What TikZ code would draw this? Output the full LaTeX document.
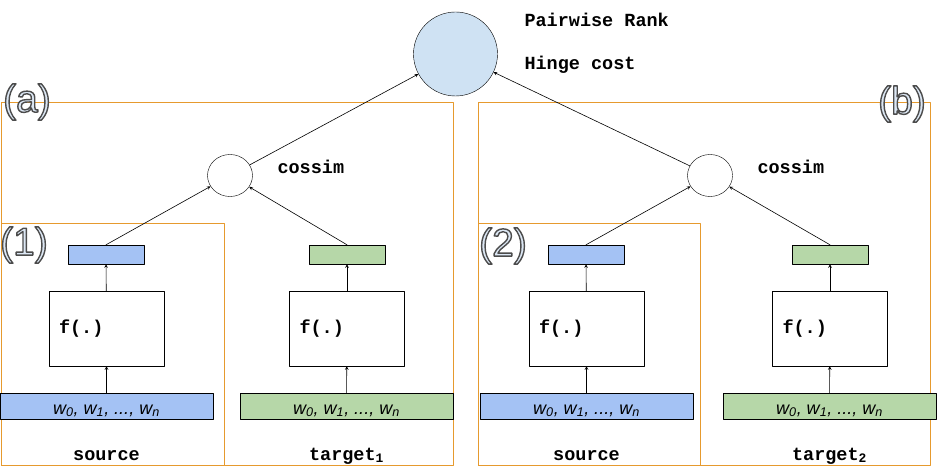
\documentclass[tikz,border=0pt]{standalone}
\usepackage{fontspec}
\setmainfont{Liberation Sans}
\setmonofont{Liberation Mono}
\usetikzlibrary{shapes.geometric}
\definecolor{boxorange}{HTML}{E69A2E}
\definecolor{vecblue}{HTML}{A4C2F4}
\definecolor{vecgreen}{HTML}{B6D7A8}
\definecolor{costblue}{HTML}{CFE2F3}
\definecolor{tagfill}{HTML}{DCE7F4}
\newcommand{\wseq}{w\textsubscript{0}, w\textsubscript{1}, ..., w\textsubscript{n}}
\newcommand{\paneltag}[1]{\textcolor{tagfill}{\special{pdf:literal direct 2 Tr 1.4 w 0.3 0.3 0.3 RG}#1\special{pdf:literal direct 0 Tr}}}
\begin{document}
\begin{tikzpicture}[x=1pt,y=-1pt,>=stealth,line join=round,line cap=round,
    font=\fontsize{18.5}{21}\selectfont\ttfamily\bfseries,
    frame/.style={draw=boxorange,line width=1pt},
    sim/.style={draw,ellipse,minimum width=45pt,minimum height=42pt,inner sep=0pt},
    vec/.style={draw,minimum width=76pt,minimum height=19pt,inner sep=0pt},
    fbox/.style={draw,minimum width=115pt,minimum height=75pt,inner sep=10pt,text width=95pt,align=left},
    bar/.style={draw,minimum width=213pt,minimum height=26pt,inner sep=0pt,text height=18pt,text depth=2pt,font=\fontsize{18}{20}\selectfont\rmfamily\itshape},
    tag/.style={font=\fontsize{39}{44}\selectfont\rmfamily\mdseries},
    flow/.style={->,line width=0.6pt}]
        \useasboundingbox (0,0) rectangle (939,470);
        %\draw[color=gray!50,dashed] (0,0) grid[step=50] (939,470);
        \draw[frame] (1,103) rectangle (453,465);
        \draw[frame] (478,103) rectangle (930,465);
        \draw[frame] (1,224) rectangle (224,465);
        \draw[frame] (478,224) rectangle (700,465);
        \node[draw,circle,fill=costblue,minimum size=84pt,inner sep=0pt] (rank) at (455.5,54) {};
        \node[anchor=base west] (pair) at (521,27) {Pairwise Rank};
        \node[anchor=base west] (hinge) at (521,70) {Hinge cost};
        \foreach \s/\ds/\dt/\n in {A/0/0/1,B/480/483/2}{
            \node[sim] (sim\s) at (230+\ds,175.5) {};
            \node[anchor=base west] (cos\s) at (274+\ds,174) {cossim};
            \node[vec,fill=vecblue] (outSrc\s) at (106+\ds,254.5) {};
            \node[vec,fill=vecgreen] (outTgt\s) at (347+\dt,254.5) {};
            \node[fbox] (fSrc\s) at (106.5+\ds,328.5) {f(.)};
            \node[fbox] (fTgt\s) at (347+\dt,328.5) {f(.)};
            \node[bar,fill=vecblue] (inSrc\s) at (106.5+\ds,406) {\wseq};
            \node[bar,fill=vecgreen] (inTgt\s) at (346.5+\dt,406) {\wseq};
            \node[anchor=base] (srcName\s) at (106.5+\ds,460) {source};
            \node[anchor=base] (tgtName\s) at (346.5+\dt,460) {target\textsubscript{\n}};
            \draw[flow] (inSrc\s) -- (fSrc\s);
            \draw[flow] (inTgt\s) -- (fTgt\s);
            \draw[flow] (fSrc\s) -- (outSrc\s);
            \draw[flow] (fTgt\s) -- (outTgt\s);
            \draw[flow] (outSrc\s.north) -- (sim\s);
            \draw[flow] (outTgt\s.north) -- (sim\s);
            \draw[flow] (sim\s) -- (rank);
        }
        \node[tag] (tagA) at (27,102) {\paneltag{(a)}};
        \node[tag] (tagB) at (902,104) {\paneltag{(b)}};
        \node[tag] (tag1) at (24,245) {\paneltag{(1)}};
        \node[tag] (tag2) at (503,246) {\paneltag{(2)}};
    \end{tikzpicture}
\end{document}
